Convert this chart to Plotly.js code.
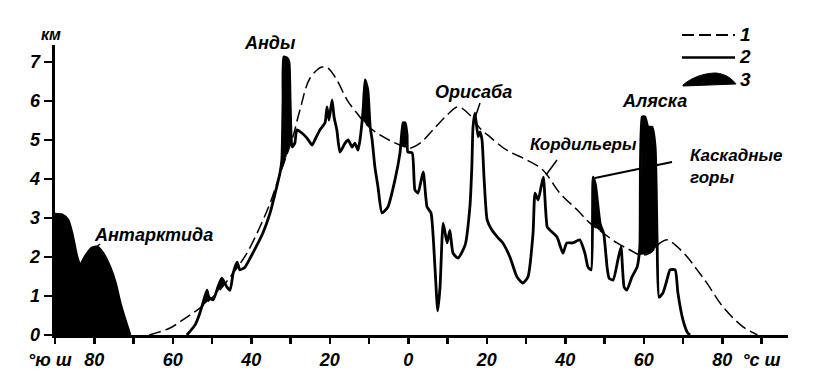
<!DOCTYPE html>
<html>
<head>
<meta charset="utf-8">
<script src="https://cdn.plot.ly/plotly-3.0.1.min.js"></script>
<style>html,body{margin:0;padding:0;background:#fff;}#chart{width:829px;height:381px;}</style>
</head>
<body>
<div id="chart"></div>
<script>
// ---- DATA (latitude: south negative, height in km) ----
const antarcticaLat = [-90, -88.2, -86.7, -85.7, -84.4, -83.6, -82.4, -80.6, -79.3, -77.8, -76.0, -74.6, -73.4, -72.1, -70.9];
const antarcticaKm  = [3.1, 3.08, 2.95, 2.62, 2.0, 1.79, 2.0, 2.23, 2.26, 2.1, 1.74, 1.33, 0.82, 0.38, 0];

const americasLat = [-56.4,-54.3,-53.1,-52.3,-51.3,-50.8,-49.7,-48.5,-47.5,-46.2,-45.4,-44.6,-43.6,-42.9,-41.6,-39.6,-37.0,-35.2,-33.9,-32.7,-32.2,-31.9,-31.7,-30.9,-30.4,-30.1,-29.6,-28.9,-28.4,-27.1,-25.8,-24.5,-23.8,-22.5,-21.2,-20.7,-20.2,-19.4,-18.9,-18.2,-17.4,-16.1,-15.3,-14.3,-13.6,-12.8,-12.3,-11.5,-11.0,-10.3,-9.7,-9.2,-8.5,-7.7,-6.7,-5.2,-3.4,-2.1,-1.3,-0.8,-0.3,-0.1,1.0,1.7,2.5,3.8,4.8,5.8,6.8,7.5,8.1,8.9,9.9,10.6,11.4,12.7,14.5,15.7,16.2,16.5,17.0,17.8,18.3,18.8,19.3,20.1,21.3,22.9,24.1,25.9,27.7,29.2,30.5,31.8,32.3,33.1,34.4,35.4,36.1,37.9,39.4,40.4,41.9,43.7,45.0,45.8,46.6,47.1,47.7,48.9,49.8,50.7,51.2,52.2,53.4,54.2,55.0,55.7,57.0,58.3,59.0,59.6,60.3,61.1,62.1,62.9,63.4,63.9,64.9,65.9,66.7,68.0,68.7,70.0,71.2,71.8];
const americasKm  = [0,0.26,0.56,0.82,1.15,0.97,0.90,1.23,1.46,1.23,1.15,1.59,1.87,1.67,1.74,2.10,2.62,3.13,3.64,4.15,4.49,6.03,7.13,7.10,7.0,6.03,4.82,4.92,5.26,5.18,5.05,4.87,5.0,5.26,5.44,5.85,5.51,6.03,5.59,5.26,4.69,4.92,5.0,4.82,4.92,4.74,5.0,5.77,6.54,6.28,5.33,5.0,4.31,3.79,3.13,3.28,3.97,4.67,5.44,5.44,5.13,4.69,4.67,3.72,3.64,4.18,3.28,3.13,1.74,0.62,1.23,2.87,2.36,2.69,2.10,1.97,2.31,3.28,4.31,5.33,5.69,5.08,5.21,5.0,4.05,2.95,2.69,2.49,2.36,2.0,1.49,1.33,1.49,2.62,3.64,3.46,4.05,2.77,2.69,2.51,2.10,2.36,2.36,2.44,2.10,1.74,1.67,4.05,3.85,2.85,2.6,1.7,1.45,1.41,1.92,2.26,1.23,1.15,1.49,1.74,2.26,5.59,5.59,5.33,5.33,4.82,2.44,0.97,1.08,1.41,1.67,1.67,1.08,0.38,0.05,0];

const snowLat = [-66,-60.7,-56.4,-53.1,-48.7,-44.6,-41.1,-37.8,-35.2,-33.2,-31.4,-29.4,-27.6,-25.0,-22.0,-20.5,-18.2,-15.6,-13.1,-10.5,-7.2,-3.9,-0.8,0.4,3.0,6.3,9.9,12.7,15.7,18.2,20.8,25.1,30.2,34.3,38.6,43.0,46.3,49.6,53.2,56.5,59.1,61.6,64.2,66.0,68.0,71.1,73.6,76.1,80.2,85.3,89];
const snowKm  = [0,0.18,0.46,0.69,1.08,1.59,2.10,2.77,3.38,3.97,4.49,5.08,5.77,6.59,6.87,6.85,6.54,6.03,5.69,5.38,5.13,4.95,4.82,4.79,4.92,5.26,5.64,5.85,5.64,5.31,5.08,4.74,4.49,4.23,3.64,3.21,2.87,2.62,2.36,2.18,2.05,2.10,2.36,2.44,2.31,2.0,1.67,1.33,0.72,0.21,0];

const xTickVals = [-90,-80,-70,-60,-50,-40,-30,-20,-10,0,10,20,30,40,50,60,70,80,90];
const xTickText = ['°ю ш\u00a0\u00a0','80','','60','','40','','20','','0','','20','','40','','60','','80','°с ш'];
const yTickVals = [0,1,2,3,4,5,6,7];
const legendLabels = ['1','2','3'];

// ---- helpers ----
function snowAt(x){
  if (x < snowLat[0] || x > snowLat[snowLat.length-1]) return 0;
  for (let i=1;i<snowLat.length;i++){
    if (x <= snowLat[i]){
      const t=(x-snowLat[i-1])/(snowLat[i]-snowLat[i-1]);
      return snowKm[i-1]+t*(snowKm[i]-snowKm[i-1]);
    }
  }
  return 0;
}
// regions where the relief rises above the snow line
function regionsAbove(px, py){
  const ox=[], oy=[];
  let run=null;
  const d = i => py[i]-snowAt(px[i]);
  function close(){
    const x0=run[0][0], x1=run[run.length-1][0];
    const set=new Set(run.map(p=>p[0]));
    snowLat.forEach(x=>{ if(x>x0 && x<x1) set.add(x); });
    const back=[...set].sort((a,b)=>b-a);
    run.forEach(p=>{ox.push(p[0]); oy.push(p[1]);});
    back.forEach(x=>{ox.push(x); oy.push(snowAt(x));});
    ox.push(null); oy.push(null);
    run=null;
  }
  for (let i=0;i<px.length;i++){
    const di=d(i);
    if (i>0){
      const dp=d(i-1);
      if ((dp>0)!==(di>0)){
        const t=dp/(dp-di);
        const cx=px[i-1]+t*(px[i]-px[i-1]);
        const cy=py[i-1]+t*(py[i]-py[i-1]);
        if (di>0) run=[[cx,cy]];
        else { run.push([cx,cy]); close(); }
      }
    }
    if (di>0){ if(!run) run=[]; run.push([px[i],py[i]]); }
  }
  if (run && run.length>1) close();
  return {x:ox, y:oy};
}

const a1 = regionsAbove(antarcticaLat, antarcticaKm);
const a2 = regionsAbove(americasLat, americasKm);
const fillX = a1.x.concat(a2.x), fillY = a1.y.concat(a2.y);

// plot area in pixels: x 55..788, y 45..335
const L=55, R=788, T=45, B=335;
const PX = px => (px-L)/(R-L);
const PY = py => (B-py)/(B-T);
const P = (px,py) => PX(px).toFixed(5)+','+PY(py).toFixed(5);

const FONT = 'Liberation Sans, Arial, sans-serif';
const tf = (size) => ({family: FONT, size: size, color: '#000', style: 'italic', weight: 'bold'});

const traces = [
  {x: fillX, y: fillY, type:'scatter', mode:'lines', fill:'toself', fillcolor:'#000',
   line:{width:0.5, color:'#000'}, hoverinfo:'skip', showlegend:false},
  {x: snowLat, y: snowKm, type:'scatter', mode:'lines',
   line:{color:'#000', width:1.5, dash:'12px,5px', shape:'spline', smoothing:1}, showlegend:false},
  {x: antarcticaLat, y: antarcticaKm, type:'scatter', mode:'lines',
   line:{color:'#000', width:2.8, shape:'spline', smoothing:0.6}, showlegend:false},
  {x: americasLat, y: americasKm, type:'scatter', mode:'lines',
   line:{color:'#000', width:2.8, shape:'spline', smoothing:0.5}, showlegend:false}
];

function ann(text, px, py, size, xanchor){
  return {text:text, xref:'paper', yref:'paper', x:PX(px), y:PY(py), showarrow:false,
          xanchor: xanchor||'center', yanchor:'middle', font: tf(size), align:'left'};
}
function seg(x0,y0,x1,y1,w,dash){
  return {type:'line', xref:'paper', yref:'paper', x0:PX(x0), y0:PY(y0), x1:PX(x1), y1:PY(y1),
          line:{color:'#000', width:w, dash:dash||'solid'}};
}

const layout = {
  width:829, height:381,
  margin:{l:L, r:829-R, t:T, b:381-B, pad:0},
  paper_bgcolor:'#fff', plot_bgcolor:'#fff',
  showlegend:false,
  xaxis:{range:[-90, -90+(R-L)/3.925], showgrid:false, zeroline:false,
         showline:true, linecolor:'#000', linewidth:3,
         tickmode:'array', tickvals:xTickVals, ticktext:xTickText,
         ticks:'outside', ticklen:6, tickwidth:2.5, tickcolor:'#000',
         tickfont: tf(18), fixedrange:true},
  yaxis:{range:[0, (B-T)/39], showgrid:false, zeroline:false,
         showline:true, linecolor:'#000', linewidth:3.5,
         tickmode:'array', tickvals:yTickVals,
         ticks:'outside', ticklen:8, tickwidth:2.5, tickcolor:'#000',
         tickfont: tf(18), fixedrange:true},
  annotations:[
    ann('км', 51, 34, 16),
    ann('Анды', 270, 43, 18),
    ann('Антарктида', 153, 235, 18),
    ann('Орисаба', 473, 92, 18),
    ann('Кордильеры', 583, 144, 17),
    ann('Аляска', 654, 101, 18),
    ann('Каскадные<br>горы', 688, 166, 17, 'left'),
    ann(legendLabels[0], 745, 35, 19),
    ann(legendLabels[1], 745, 57, 19),
    ann(legendLabels[2], 745, 79, 19)
  ],
  shapes:[
    seg(682,35,735,35,2,'12px,5px'),
    seg(682,57.5,735,57.5,2.5),
    {type:'path', xref:'paper', yref:'paper', fillcolor:'#000', line:{color:'#000', width:1},
     path:'M'+P(683,85)+' C'+P(692,77)+' '+P(705,73)+' '+P(716,73)+' C'+P(726,74)+' '+P(732,79)+' '+P(736,84)+' L'+P(683,86)+' Z'},
    seg(94,249,100,244,1.5),
    seg(480,103,475,118,1.5),
    seg(557,160,546,175,1.5),
    seg(595,178,672,162,1.8)
  ]
};

Plotly.newPlot('chart', traces, layout, {staticPlot:true, displayModeBar:false});
</script>
</body>
</html>
